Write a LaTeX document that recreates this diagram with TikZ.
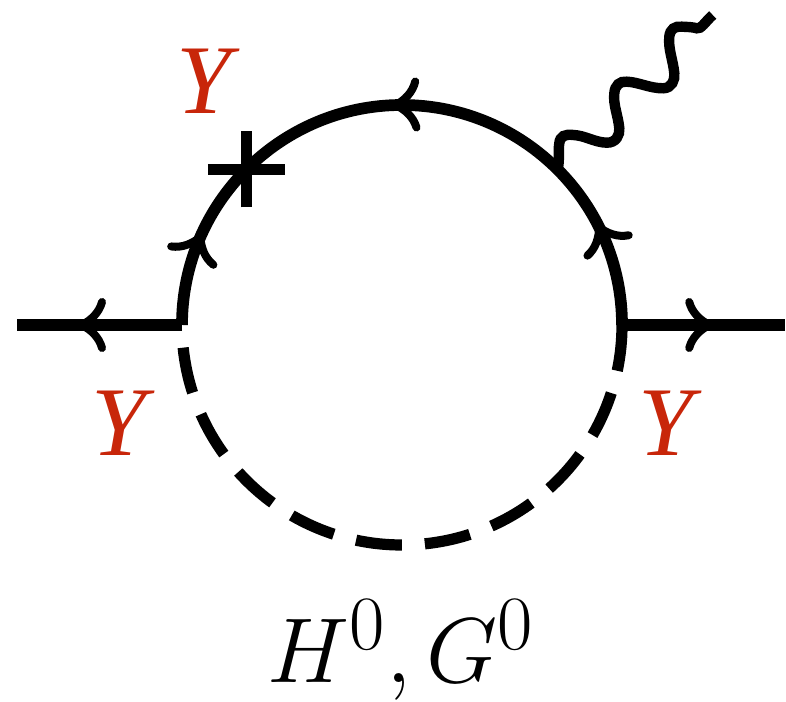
\documentclass[tikz,border=0pt]{standalone}
\usepackage[no-math]{fontspec}
\usepackage{amsmath}
\usepackage[dvipsnames]{xcolor}
\newfontfamily\yfont{Liberation Serif}
\definecolor{ylabel}{HTML}{C8260A}
\tikzset{
  fline/.style={line width=0.117cm},
  sline/.style={line width=0.112cm,dash pattern=on 0.4608cm off 0.2304cm},
  wline/.style={line width=0.104cm},
  lbl/.style={font=\fontsize{24.88}{30}\selectfont,scale=1.053,inner sep=0pt},
  ylbl/.style={font=\fontsize{28}{30}\yfont\itshape,inner sep=0pt,text=ylabel},
  barb/.pic={\draw[line width=0.08cm,line cap=round] (-20,23) .. controls (-17,12) and (-9,5) .. (0,0) .. controls (-9,-5) and (-17,-12) .. (-20,-23);}
}
\begin{document}
\begin{tikzpicture}[x=0.01cm,y=0.01cm]
\useasboundingbox (-402,-376) rectangle (384,325);
\coordinate (vl) at (-220,0);\coordinate (vr) at (220,0);
\coordinate (el) at (-385,0);\coordinate (er) at (383,0);
\coordinate (wv) at (45:220);\coordinate (wq) at (310.7,310);
\coordinate (cr) at (135:220);
\draw[fline] (vr) arc (0:180:220);
\draw[sline] (vr) arc (0:-180:220);
\draw[fline] (vl) -- (el) pic[pos=.606,sloped,allow upside down]{barb};
\draw[fline] (vr) -- (er) pic[pos=.535,sloped]{barb};
\foreach \a/\h in {156.5/66.5,91.6/181.6,26.3/116.3}{\pic[rotate=\h] at (\a:220) {barb};}
\draw[fline] (cr) +(-38.5,0) -- +(38.5,0) (cr) +(0,-38) -- +(0,38);
\draw[wline] (wv) .. controls (158,165) and (156,175) .. (157.3,181.7)
  .. controls (158,189) and (163,191) .. (171.3,190)
  .. controls (183,189.5) and (193,182.5) .. (204.7,182.3)
  .. controls (214,182) and (218,190) .. (217.3,196.7)
  .. controls (216,210) and (211,220) .. (212.3,231.7)
  .. controls (213,240) and (218,244) .. (224.7,243.3)
  .. controls (236,243) and (248,236.5) .. (261.3,236.7)
  .. controls (270,237) and (273,245) .. (272.3,251.7)
  .. controls (271,265) and (266,276) .. (267.3,288.3)
  .. controls (268,296) and (273,299) .. (279.7,298.3)
  .. controls (286,298) and (290,298) .. (294.7,296.7)
  .. controls (299,295.5) and (303,303) .. (wq);
\node[ylbl] (yt) at (-198.5,243.5) {Y};
\node[ylbl] (yl) at (-283.5,-98.5) {Y};
\node[ylbl] (yr) at (264,-98.5) {Y};
\node[lbl,anchor=base] (sc) at (-1,-357.7) {$H^0,G^0$};
\end{tikzpicture}
\end{document}
